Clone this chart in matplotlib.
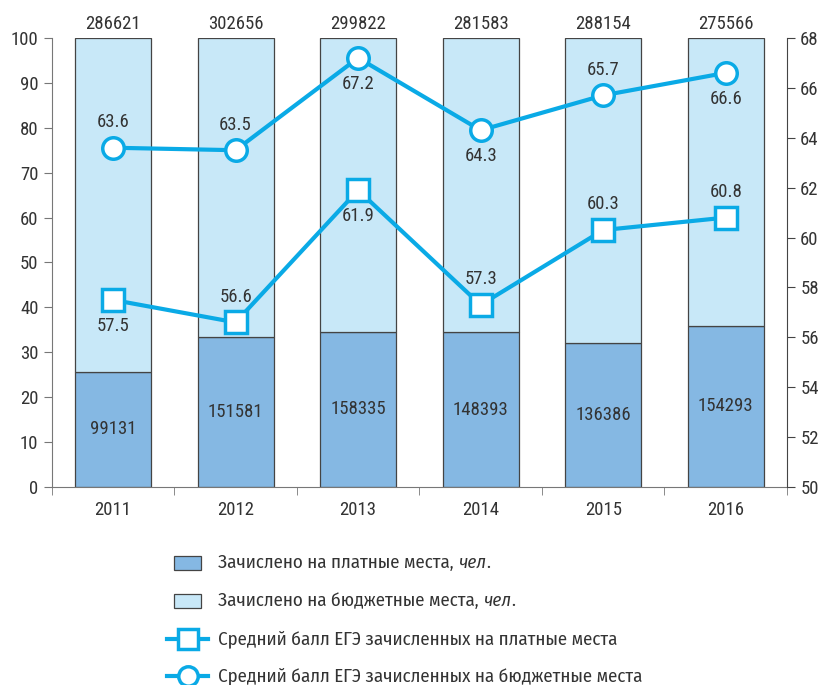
import matplotlib
matplotlib.use("Agg")
import matplotlib.pyplot as plt
from matplotlib.patches import Rectangle
from matplotlib.lines import Line2D

years = ["2011", "2012", "2013", "2014", "2015", "2016"]
paid_count = [99131, 151581, 158335, 148393, 136386, 154293]
budget_count = [286621, 302656, 299822, 281583, 288154, 275566]
score_paid = [57.5, 56.6, 61.9, 57.3, 60.3, 60.8]
score_budget = [63.6, 63.5, 67.2, 64.3, 65.7, 66.6]
# label placement for the line values: +1 above the marker, -1 below
paid_label_side = [-1, 1, -1, 1, 1, 1]
budget_label_side = [1, 1, -1, -1, 1, -1]

PAID_C = "#85b8e3"
BUDGET_C = "#c8e8f8"
LINE_C = "#0aaae6"
TEXT_C = "#333333"

num_font = ["Roboto Condensed", "DejaVu Sans"]
leg_font = ["Fira Sans Condensed", "DejaVu Sans"]
plt.rcParams["font.family"] = num_font

fig = plt.figure(figsize=(8.21, 6.85), dpi=100)
ax = fig.add_axes([0.063, 0.289, 0.8956, 0.6556])

x = list(range(len(years)))
paid_pct = [p / (p + b) * 100 for p, b in zip(paid_count, budget_count)]
budget_pct = [100 - v for v in paid_pct]
w = 0.62
ax.bar(x, paid_pct, w, color=PAID_C, edgecolor="#444444", linewidth=0.9, zorder=2)
ax.bar(x, budget_pct, w, bottom=paid_pct, color=BUDGET_C, edgecolor="#444444",
       linewidth=0.9, zorder=2)

for i in x:
    ax.text(i, paid_pct[i] / 2, f"{paid_count[i]}", ha="center", va="center",
            fontsize=13.5, color=TEXT_C, zorder=5)
    ax.text(i, 101.2, f"{budget_count[i]}", ha="center", va="bottom",
            fontsize=13.5, color=TEXT_C, zorder=5, clip_on=False)

ax.set_xlim(-0.5, len(years) - 0.5)
ax.set_ylim(0, 100)
ax.set_yticks(range(0, 101, 10))
ax.set_xticks(x)
ax.set_xticklabels(years)
ax.set_xticks([i - 0.5 for i in range(len(years) + 1)], minor=True)
ax.tick_params(axis="x", which="major", length=0, pad=10, labelsize=13.5, labelcolor=TEXT_C)
ax.tick_params(axis="x", which="minor", length=6, direction="out", color="#777777")
ax.tick_params(axis="y", length=6, direction="out", color="#777777", labelsize=13.5,
               labelcolor=TEXT_C)
for s in ["top", "right"]:
    ax.spines[s].set_visible(False)
ax.spines["left"].set_color("#777777")
ax.spines["bottom"].set_color("#777777")

ax2 = ax.twinx()
ax2.set_ylim(50, 68)
ax2.set_yticks(range(50, 69, 2))
ax2.tick_params(axis="y", length=6, direction="out", color="#444444", labelsize=13.5,
                labelcolor=TEXT_C)
for s in ["top", "left", "bottom"]:
    ax2.spines[s].set_visible(False)
ax2.spines["right"].set_color("#444444")

ax2.plot(x, score_budget, color=LINE_C, lw=3, marker="o", ms=15.5, mfc="white",
         mec=LINE_C, mew=2.5, zorder=4)
ax2.plot(x, score_paid, color=LINE_C, lw=3, marker="s", ms=15.5, mfc="white",
         mec=LINE_C, mew=2.5, zorder=4)
for i in x:
    for val, side in ((score_budget[i], budget_label_side[i]),
                      (score_paid[i], paid_label_side[i])):
        ax2.annotate(f"{val}", (i, val), xytext=(0, 12 * side), textcoords="offset points",
                     ha="center", va="bottom" if side > 0 else "top",
                     fontsize=13.5, color=TEXT_C, zorder=5)

# legend drawn by hand so "чел." can be italic
W, H = fig.get_size_inches() * fig.dpi
def fx(px):
    return px / W
def fy(py):
    return 1 - py / H

rows = [563, 601, 639, 676]
for r, color in zip(rows[:2], [PAID_C, BUDGET_C]):
    fig.add_artist(Rectangle((fx(174), fy(r + 7)), fx(27), 14 / H, facecolor=color,
                             edgecolor="#444444", linewidth=0.9))
for r, mk in zip(rows[2:], ["s", "o"]):
    fig.add_artist(Line2D([fx(167), fx(208)], [fy(r), fy(r)], color=LINE_C, lw=3))
    fig.add_artist(Line2D([fx(187.5)], [fy(r)], marker=mk, ms=14, mfc="white",
                          mec=LINE_C, mew=2.5, color=LINE_C))

legend_text = [
    ("Зачислено на платные места,", "чел", "."),
    ("Зачислено на бюджетные места,", "чел", "."),
    ("Средний балл ЕГЭ зачисленных на платные места", "", ""),
    ("Средний балл ЕГЭ зачисленных на бюджетные места", "", ""),
]
fig.canvas.draw()
renderer = fig.canvas.get_renderer()
for r, (a, b, c) in zip(rows, legend_text):
    xpos = fx(218)
    for part, style, gap in ((a, "normal", 5), (b, "italic", 0), (c, "normal", 0)):
        if not part:
            continue
        t = fig.text(xpos, fy(r), part, fontsize=13.6, family=leg_font,
                     style=style, color=TEXT_C, va="center", ha="left")
        bb = t.get_window_extent(renderer)
        xpos = (bb.x1 + gap) / W

fig.savefig("out.png", dpi=100)
